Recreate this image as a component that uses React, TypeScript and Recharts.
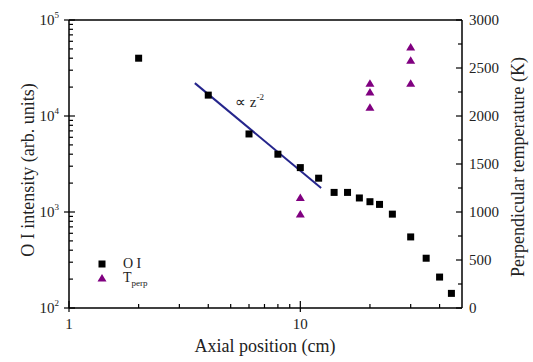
import React from 'react';
import { ComposedChart, Scatter, Line, XAxis, YAxis, Legend, ReferenceLine } from 'recharts';

// O I emission intensity vs axial position
const oiPositions = [2, 4, 6, 8, 10, 12, 14, 16, 18, 20, 22, 25, 30, 35, 40, 45];
const oiIntensity = [40000, 16500, 6500, 4000, 2900, 2250, 1600, 1600, 1400, 1280, 1200, 950, 550, 330, 210, 142];

// perpendicular temperature (right axis)
const tempPositions = [10, 10, 20, 20, 20, 30, 30, 30];
const tempValues = [1150, 980, 2340, 2250, 2090, 2720, 2580, 2340];

// z^-2 guide line end points
const fitPositions = [3.5, 12.3];
const fitValues = [22000, 1780];

const xMajorTicks = [1, 10];
const xMinorTicks = [2, 3, 4, 5, 6, 7, 8, 9, 20, 30, 40];
const leftMajorTicks = [100, 1000, 10000, 100000];
const leftMinorTicks = [200, 300, 400, 500, 600, 700, 800, 900, 2000, 3000, 4000, 5000, 6000, 7000, 8000, 9000, 20000, 30000, 40000, 50000, 60000, 70000, 80000, 90000];
const rightMajorTicks = [0, 500, 1000, 1500, 2000, 2500, 3000];
const rightMinorTicks = [250, 750, 1250, 1750, 2250, 2750];

const oiData = oiPositions.map((x, i) => ({ x, y: oiIntensity[i] }));
const tempData = tempPositions.map((x, i) => ({ x, y: tempValues[i] }));
const fitData = fitPositions.map((x, i) => ({ x, y: fitValues[i] }));

const FONT = "'Liberation Serif', 'Times New Roman', serif";
const TEXT = '#222';
const PURPLE = '#800080';
const serif = { fontFamily: FONT };

const XTick = (props: any) => {
  const { x, y, payload } = props;
  const major = xMajorTicks.includes(payload.value);
  return (
    <g>
      <line x1={x} x2={x} y1={y} y2={major ? y - 7 : y - 4} stroke="#000" strokeWidth={1.2} />
      {major && <line x1={x} x2={x} y1={y} y2={y + 4} stroke="#000" strokeWidth={1.2} />}
      {major && (
        <text x={x} y={y + 21} textAnchor="middle" style={serif} fontSize={15} fill={TEXT}>
          {payload.value}
        </text>
      )}
    </g>
  );
};

const LeftTick = (props: any) => {
  const { x, y, payload } = props;
  const major = leftMajorTicks.includes(payload.value);
  const exp = Math.round(Math.log10(payload.value));
  return (
    <g>
      <line x1={major ? x - 5 : x} x2={major ? x + 6 : x + 4} y1={y} y2={y} stroke="#000" strokeWidth={1.2} />
      {major && (
        <text x={x - 10} y={y + 5} textAnchor="end" style={serif} fontSize={15} fill={TEXT}>
          <tspan>10</tspan>
          <tspan dy={-7} fontSize={9}>{exp}</tspan>
        </text>
      )}
    </g>
  );
};

const RightTick = (props: any) => {
  const { x, y, payload } = props;
  const major = rightMajorTicks.includes(payload.value);
  return (
    <g>
      <line x1={x} x2={major ? x - 6 : x - 4} y1={y} y2={y} stroke="#000" strokeWidth={1.2} />
      {major && (
        <text x={x + 7} y={y + 5} textAnchor="start" style={serif} fontSize={15} fill={TEXT}>
          {payload.value}
        </text>
      )}
    </g>
  );
};

const squareShape = (p: any) => (
  <rect x={p.cx - 3.5} y={p.cy - 3.5} width={7} height={7} fill="#000" />
);

const triangleShape = (p: any) => (
  <polygon
    points={`${p.cx},${p.cy - 4} ${p.cx + 4.5},${p.cy + 3.5} ${p.cx - 4.5},${p.cy + 3.5}`}
    fill={PURPLE}
  />
);

const LegendBox = () => (
  <div style={{ fontFamily: FONT, fontSize: 14, color: TEXT, lineHeight: '14px' }}>
    <div style={{ display: 'flex', alignItems: 'center', height: 14 }}>
      <svg width={10} height={10}>
        <rect x={1.5} y={1.5} width={7} height={7} fill="#000" />
      </svg>
      <span style={{ marginLeft: 16 }}>O I</span>
    </div>
    <div style={{ display: 'flex', alignItems: 'center', height: 14 }}>
      <svg width={10} height={10}>
        <polygon points="5,1 9.5,8.5 0.5,8.5" fill={PURPLE} />
      </svg>
      <span style={{ marginLeft: 16 }}>
        T<span style={{ fontSize: 9, position: 'relative', top: 4 }}>perp</span>
      </span>
    </div>
  </div>
);

const Titles = () => (
  <g>
    <text x={265} y={352} textAnchor="middle" style={serif} fill={TEXT} fontSize={18}>
      Axial position (cm)
    </text>
    <text
      x={28}
      y={170}
      textAnchor="middle"
      dominantBaseline="central"
      style={serif}
      fill={TEXT}
      fontSize={18}
      transform="rotate(-90, 28, 170)"
    >
      O I intensity (arb. units)
    </text>
    <text
      x={518}
      y={167}
      textAnchor="middle"
      dominantBaseline="central"
      style={serif}
      fill={TEXT}
      fontSize={18}
      transform="rotate(-90, 518, 167)"
    >
      Perpendicular temperature (K)
    </text>
    <text x={235} y={107} style={serif} fill={TEXT} fontSize={15}>
      <tspan>∝ z</tspan>
      <tspan dy={-7} fontSize={9}>-2</tspan>
    </text>
  </g>
);

export default function App() {
  return (
    <div style={{ position: 'absolute', left: 0, top: 0, background: '#fff' }}>
      <ComposedChart width={533} height={362} margin={{ top: 20, right: 0, bottom: 0, left: 0 }}>
        <XAxis
          dataKey="x"
          type="number"
          scale="log"
          domain={[1, 50]}
          allowDataOverflow
          ticks={[...xMajorTicks, ...xMinorTicks]}
          interval={0}
          tickSize={0}
          tickMargin={0}
          tick={XTick}
          height={54}
          axisLine={{ stroke: '#000', strokeWidth: 1.5 }}
          label={{ content: () => <Titles /> }}
        />
        <YAxis
          yAxisId="left"
          dataKey="y"
          type="number"
          scale="log"
          domain={[100, 100000]}
          allowDataOverflow
          ticks={[...leftMajorTicks, ...leftMinorTicks]}
          interval={0}
          tickSize={0}
          tickMargin={0}
          tick={LeftTick}
          width={69}
          axisLine={{ stroke: '#000', strokeWidth: 1.5 }}
        />
        <YAxis
          yAxisId="right"
          orientation="right"
          dataKey="y"
          type="number"
          domain={[0, 3000]}
          allowDataOverflow
          ticks={[...rightMajorTicks, ...rightMinorTicks]}
          interval={0}
          tickSize={0}
          tickMargin={0}
          tick={RightTick}
          width={71}
          axisLine={{ stroke: '#000', strokeWidth: 1.5 }}
        />
        <ReferenceLine yAxisId="left" y={100000} stroke="#000" strokeWidth={1.5} ifOverflow="visible" />
        <Line
          data={fitData}
          yAxisId="left"
          dataKey="y"
          type="linear"
          stroke="#25258c"
          strokeWidth={2}
          dot={false}
          isAnimationActive={false}
        />
        <Scatter data={oiData} yAxisId="left" name="O I" shape={squareShape} isAnimationActive={false} />
        <Scatter data={tempData} yAxisId="right" name="Tperp" shape={triangleShape} isAnimationActive={false} />
        <Legend
          layout="vertical"
          align="center"
          verticalAlign="middle"
          content={LegendBox}
          wrapperStyle={{ left: 97, top: 257, width: 80, height: 30 }}
        />
      </ComposedChart>
    </div>
  );
}
